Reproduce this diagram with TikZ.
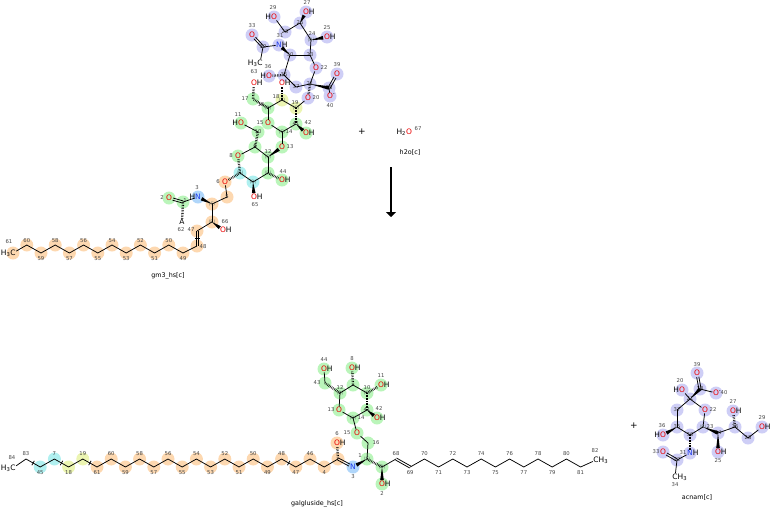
\documentclass[tikz,border=0pt]{standalone}
\usepackage{fontspec}
\setmainfont{DejaVu Sans}
\usetikzlibrary{calc,backgrounds,arrows.meta}

\definecolor{ored}{RGB}{235,0,0}
\definecolor{nblue}{RGB}{30,60,235}
\definecolor{numgray}{RGB}{70,70,70}
\definecolor{stgray}{RGB}{95,115,105}
\definecolor{hP}{RGB}{206,206,246}
\definecolor{hG}{RGB}{186,245,186}
\definecolor{hO}{RGB}{253,216,176}
\definecolor{hC}{RGB}{176,240,240}
\definecolor{hY}{RGB}{236,245,178}
\definecolor{hB}{RGB}{176,214,250}

\newcommand\Ox{\textcolor{ored}{O}}
\newcommand\Nx{\textcolor{nblue}{N}}
\newcommand\OH{\Ox\rlap{H}}
\newcommand\HO{\llap{H}\Ox}
\newcommand\NH{\Nx\rlap{H}}
\newcommand\HN{\llap{H}\Nx}
\newcommand\Om{\Ox\rlap{\textsuperscript{-}}}
\newcommand\HHHC{\llap{H\textsubscript{3}}C}
\newcommand\CHHH{C\rlap{H\textsubscript{3}}}

\newcommand\wbond[3][0pt]{\fill (#2) -- ($(#3)!#1!(#2)!1.8pt!90:(#2)$) -- ($(#3)!#1!(#2)!1.8pt!-90:(#2)$) -- cycle;}
\newcommand\dbond[3][0pt]{%
  \draw[bond, shorten >=#1] ($(#2)!1.1pt!90:(#3)$) -- ($(#3)!1.1pt!-90:(#2)$);
  \draw[bond, shorten >=#1] ($(#2)!1.1pt!-90:(#3)$) -- ($(#3)!1.1pt!90:(#2)$);}
\newcommand\xtick[2]{\draw[bond] ($(#1)!0.5!(#2)!2.5pt!90:(#2)$) -- ($(#1)!0.5!(#2)!2.5pt!-90:(#2)$);}

\tikzset{
  bond/.style={line width=0.75pt},
  hbond/.style={line width=2.4pt, dash pattern=on 0.55pt off 1.05pt},
  atm/.style={inner sep=0.4pt, font=\fontsize{7.5}{8}\selectfont},
  num/.style={inner sep=0pt, text=numgray, font=\fontsize{5.3}{5.5}\selectfont},
  stereo/.style={inner sep=0pt, text=stgray, font=\fontsize{4.6}{5}\selectfont},
  rxnlbl/.style={font=\fontsize{6.4}{7}\selectfont},
  plus/.style={font=\fontsize{9}{9}\selectfont},
}

\begin{document}
\begin{tikzpicture}[x=1pt,y=-1pt]
\useasboundingbox (0,0) rectangle (770,509);

% carbon vertices
\foreach \nm/\x/\y/\hc/\num/\nx/\ny in {
  t28/285/32/hP/28/0/0, t26/300/23/hP/26/0/0, t24/311/40/hP/24/1/-6,
  t23/310/55/hP/23/0/0, t30/290/55/hP/30/0/0, t32/263/47/hP/32/0/0,
  t35/284/75/hP/35/0/0, t37/296/87/hP/37/0/0, t21/310/84/hP/21/0/0,
  t38/329/88/hP/38/0/0, t17/253/99/hG/17/-8/0, t16/268/108/hG/16/-7/-3,
  t18/282/100/hY/18/-6/-3, t19/296/108/hY/19/-1/-5, t41/296/124/hG/41/0/0,
  t14/282/132/hG/14/7/0, t10/258/132/hG/10/0/0, t9/255/147/hG/9/0/0,
  t12/268/157/hG/12/0/-5, t43/268/173/hG/{}/0/0, t45/253/182/hC/{}/0/0,
  t7/240/173/hC/{}/0/0, t5/227/197/hO/5/0/0, t4/212/204/hO/{}/0/0,
  t1/183/202/hG/1/2/-1, t46/212/222/hO/{}/0/0, t47/197/231/hO/47/-6/-1,
  t48/197/246/hO/48/6/1,
  b5/338/459/hO/{}/0/0, b9/353/385/hG/{}/0/0, b10/367/393/hG/10/0/-5,
  b12/340/393/hG/12/0/-5, b14/353/418/hG/14/8/0, b41/367/410/hG/41/0/0,
  b43/325/383/hG/43/-8/0, b16/368/443/hG/16/8/0, b1/367/459/hG/1/-7/-3,
  b2/382/467/hG/{}/0/0,
  a38/700/389/hP/38/0/0, a21/690/399/hP/21/0/0, a23/703/427/hP/23/7/0,
  a37/677/410/hP/37/0/0, a35/677/427/hP/35/0/0, a30/690/435/hP/30/0/0,
  a32/677/460/hP/32/0/0, a24/718/433/hP/24/0/0, a26/735/427/hP/26/0/0,
  a28/748/438/hP/28/0/0}{
  \coordinate (\nm) at (\x,\y);
  \node[num] (n\nm) at ($(\nm)+(\nx,\ny)$) {\num};
  \begin{scope}[on background layer]\path[fill=\hc] (\nm) circle (6.5pt);\end{scope}
}

% hetero atoms and end groups
\foreach \nm/\x/\y/\txt/\hc/\num/\nx/\ny in {
  tO29/274/17/{\HO}/hP/29/-1/-9, tO27/306/12/{\OH}/hP/27/1/-9,
  tO25/327/37/{\OH}/hP/25/0/-9, tO33/252/35/{\Ox}/hP/33/0/-9,
  tN31/279/45/{\NH}/hP/31/1/-9, tC63/260/63/{\HHHC}/none/63/-6/9,
  tO36/269/76/{\HO}/hP/36/-1/-9, tO22/316/68/{\Ox}/hP/22/8/0,
  tO39/337/74/{\Ox}/hP/39/0/-9, tO40/330/96/{\Om}/hP/40/0/10,
  tO20/308/98/{\Ox}/hP/20/8/0, tO17/254/83/{\OH}/none/{}/0/0,
  tO18/282/83/{\OH}/none/{}/0/0, tO42/306/133/{\OH}/hG/42/2/-10,
  tO15/268/123/{\Ox}/hG/15/-8/0, tO11/241/123/{\HO}/hG/11/-3/-8,
  tO8/238/156/{\Ox}/hG/8/-7/0, tO13/282/147/{\Ox}/hG/13/8/0,
  tO44/282/180/{\OH}/hG/44/1/-8, tO65/254/197/{\OH}/none/65/1/8,
  tO6/225/182/{\Ox}/hO/6/-7/0, tN3/198/197/{\HN}/hB/3/-1/-9,
  tO2/169/198/{\Ox}/hG/2/-7/0, tA/182/222/{A}/none/62/-1/8,
  tO66/223/230/{\OH}/none/66/2/-8, tC61/13/253/{\HHHC}/hO/61/-4/-11,
  bO6/337/443/{\OH}/hO/6/0/-9, bN3/353/467/{\Nx}/hB/3/0/10,
  bO15/357/433/{\Ox}/hG/15/-10/0, bO13/339/410/{\Ox}/hG/13/-8/0,
  bO8/352/368/{\OH}/hG/8/0/-9, bO11/381/385/{\OH}/hG/11/0/-9,
  bO42/377/418/{\OH}/hG/42/2/-9, bO44/324/369/{\OH}/hG/44/0/-9,
  bO2/382/484/{\OH}/hG/2/0/10, b84/13/468/{\HHHC}/none/84/-1/-10,
  b82/596/460/{\CHHH}/none/82/-1/-9,
  aO39/697/373/{\Ox}/hP/39/0/-8, aO40/716/393/{\Om}/hP/40/8/0,
  aO20/682/390/{\HO}/hP/20/-2/-9, aO22/705/410/{\Ox}/hP/22/8/0,
  aO36/663/435/{\HO}/hP/36/-1/-9, aN31/690/453/{\NH}/hP/31/-7/0,
  aO33/663/452/{\Ox}/hP/33/-7/0, a34/675/477/{\CHHH}/none/34/0/8,
  aO25/718/452/{\OH}/hP/25/0/9, aO27/733/411/{\OH}/hP/27/0/-9,
  aO29/762/427/{\OH}/hP/29/0/-9}{
  \node[atm] (\nm) at (\x,\y) {\txt};
  \node[num] (n\nm) at ($(\nm)+(\nx,\ny)$) {\num};
  \begin{scope}[on background layer]\path[fill=\hc] (\nm) circle (6.5pt);\end{scope}
}

% chains
\foreach \n in {49,...,60}{
  \pgfmathsetmacro\yy{isodd(\n) ? 253 : 245}
  \pgfmathsetmacro\dy{isodd(\n) ? 6 : -4}
  \coordinate (t\n) at ({183-14.2*(\n-49)},\yy);
  \node[num] (nt\n) at ({183-14.2*(\n-49)},\yy+\dy) {\n};
  \begin{scope}[on background layer]\path[fill=hO] (t\n) circle (6.5pt);\end{scope}
}
\foreach \n/\hc [count=\i from 0] in {83/none,45/hC,7/hC,18/hY,19/hY,61/hO,60/hO,59/hO,
    58/hO,57/hO,56/hO,55/hO,54/hO,53/hO,52/hO,51/hO,50/hO,49/hO,48/hO,47/hO,46/hO,4/hO}{
  \pgfmathsetmacro\yy{isodd(\i) ? 467 : 459}
  \pgfmathsetmacro\dy{isodd(\i) ? 6 : -5}
  \coordinate (b\n) at ({26+14.2*\i},\yy);
  \node[num] (nb\n) at ({26+14.2*\i},\yy+\dy) {\n};
  \begin{scope}[on background layer]\path[fill=\hc] (b\n) circle (6.5pt);\end{scope}
}
\foreach \n in {68,...,81}{
  \pgfmathsetmacro\yy{isodd(\n) ? 467 : 459}
  \pgfmathsetmacro\dy{isodd(\n) ? 6 : -5}
  \coordinate (b\n) at ({396+14.2*(\n-68)},\yy);
  \node[num] (nb\n) at ({396+14.2*(\n-68)},\yy+\dy) {\n};
}

\foreach \a/\s in {t24/R,t16/R,t18/S,t19/S,t14/S,t12/S,t43/R,t45/R,t7/R,t4/S,t46/R,
    b1/S,b2/R,b14/R,b12/R,b10/S,a23/R}
  \node[stereo] (s\a) at (\a) {(\s)};

% bonds
\draw[bond] (t48) \foreach \n in {49,...,60}{ -- (t\n)} -- (tC61);
\draw[bond] (b83) \foreach \n in {45,7,18,19,61,60,59,58,57,56,55,54,53,52,51,50,49,48,47,46,4,5}{ -- (b\n)};
\draw[bond] (b69) \foreach \n in {70,...,81}{ -- (b\n)} -- (b82);
\foreach \a/\b in {b84/b83, tO29/t28, t28/t26, t26/t24, t24/t23, t23/t30, t30/t35, t35/t37,
    t37/t21, t21/tO22, tO22/t23, tN31/t32, t32/tC63, t38/tO40, tO20/t19, t16/t18,
    t18/t19, t41/t14, t14/tO15, tO15/t16, t10/tO11, t9/tO8, t9/t12, tO13/t14,
    t12/t43, t43/t45, t45/t7, tO6/t5, t5/t4, tN3/t1, t4/t46, t46/t47,
    b2/b68, b1/b16, b16/bO15, bO15/b14, b14/bO13, bO13/b12, b12/b9, b9/b10,
    b41/b14, b43/bO44,
    a38/aO40, a21/aO20, a21/aO22, aO22/a23, a23/a30, a30/a35, a35/a37, a37/a21,
    aN31/a32, a32/a34, a24/a26, a26/a28, a28/aO29}
  \draw[bond] (\a) -- (\b);
\foreach \a/\b in {t35/tO36, t21/tO20, t19/t41, t16/t17, t17/tO17, t18/tO18, t9/t10,
    tO8/t7, t43/tO44, t7/tO6, t1/tA,
    b5/bO6, b12/b43, b9/bO8, b10/bO11, b10/b41, b1/b2,
    a30/aN31, a26/aO27}
  \draw[hbond] (\a) -- (\b);
\wbond[4pt]{t26}{tO27} \wbond[4pt]{t24}{tO25} \wbond[4pt]{t30}{tN31}
\wbond{t21}{t38} \wbond[4pt]{t41}{tO42} \wbond[4pt]{t12}{tO13}
\wbond[4pt]{t45}{tO65} \wbond[4pt]{t4}{tN3} \wbond[4pt]{t46}{tO66}
\wbond[4pt]{b1}{bN3} \wbond[4pt]{b41}{bO42} \wbond[4pt]{b2}{bO2}
\wbond{a21}{a38} \wbond[4pt]{a35}{aO36} \wbond{a23}{a24} \wbond[4pt]{a24}{aO25}
\dbond[4pt]{t32}{tO33} \dbond[4pt]{t38}{tO39} \dbond[4pt]{t1}{tO2} \dbond{t47}{t48}
\dbond[4pt]{b5}{bN3} \dbond{b68}{b69}
\dbond[4pt]{a32}{aO33} \dbond[4pt]{a38}{aO39}
\xtick{t47}{t48} \xtick{b83}{b45} \xtick{b7}{b18} \xtick{b19}{b61} \xtick{b48}{b47}

% reaction
\node[atm] (wO) at (409,132) {\llap{H\textsubscript{2}}\Ox};
\node[num] (nwO) at (418,129) {67};
\node[plus] (plus1) at (362,132) {+};
\node[plus] (plus2) at (634,426) {+};
\coordinate (arrS) at (391,167);
\coordinate (arrE) at (391,217);
\draw[line width=2.6pt, -{Triangle[length=5pt,width=10pt]}] (arrS) -- (arrE);

\node[rxnlbl] (lgm3) at (168,276) {gm3\_hs[c]};
\node[rxnlbl] (lh2o) at (410,152) {h2o[c]};
\node[rxnlbl] (lgal) at (317,504) {galgluside\_hs[c]};
\node[rxnlbl] (lacn) at (697,497) {acnam[c]};
\end{tikzpicture}
\end{document}
